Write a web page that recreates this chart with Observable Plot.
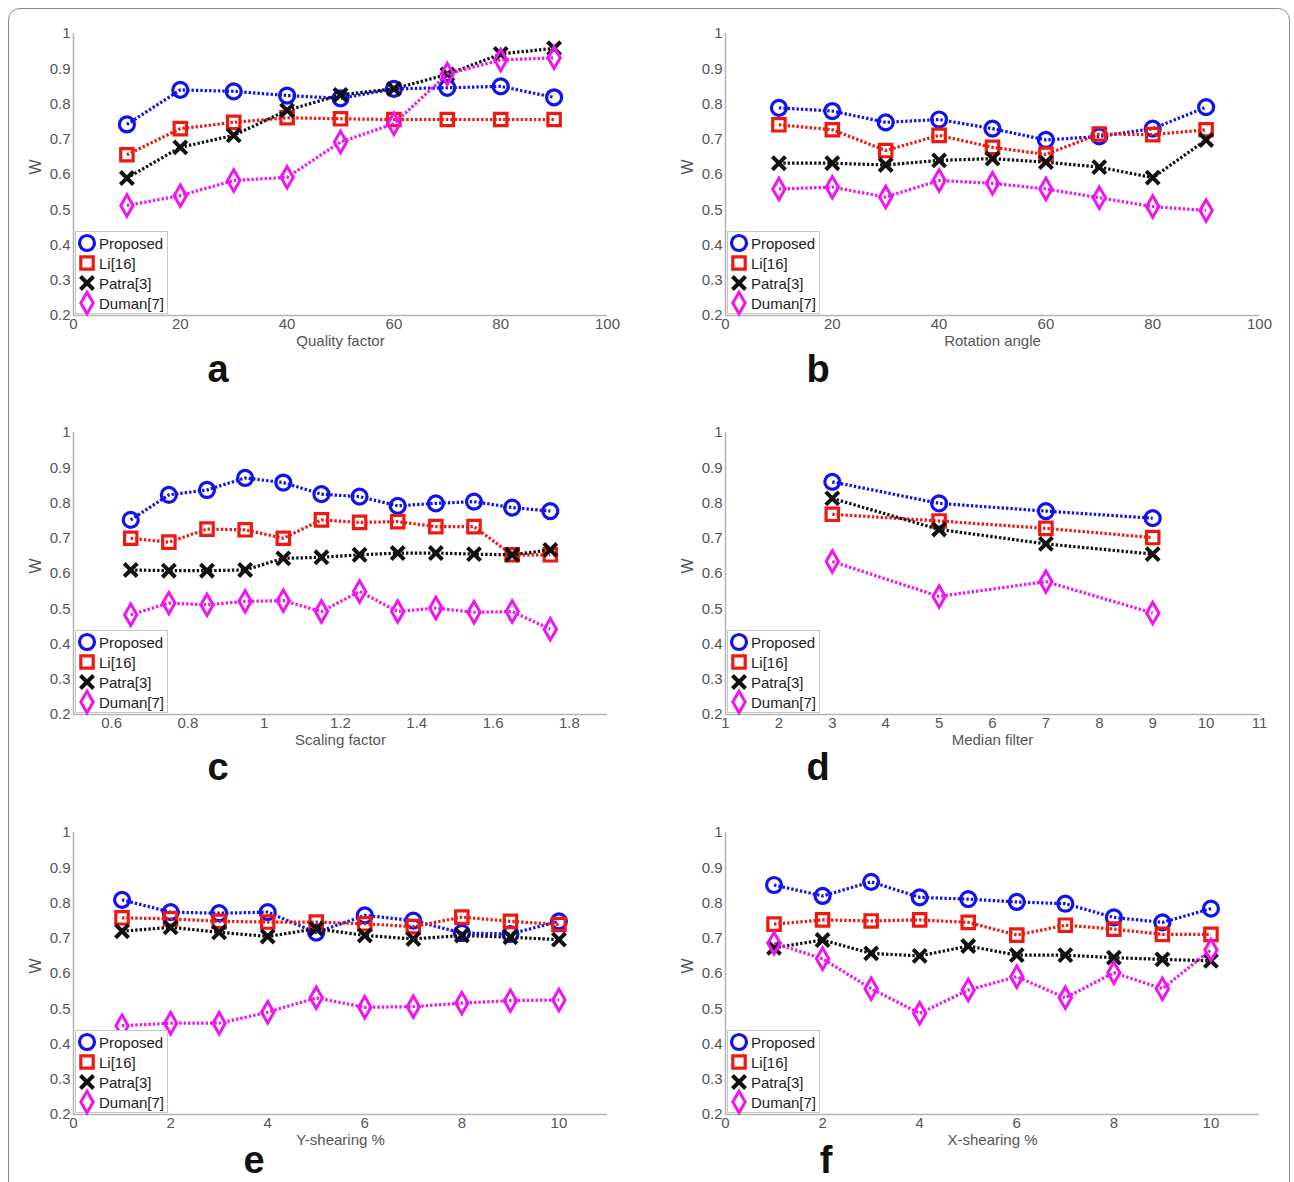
<!DOCTYPE html>
<html>
<head>
<meta charset="utf-8">
<script src="https://cdn.jsdelivr.net/npm/d3@7"></script>
<script src="https://cdn.jsdelivr.net/npm/@observablehq/plot@0.6"></script>
<style>
  html, body { margin: 0; padding: 0; background: #fff; }
  #root { position: relative; width: 1294px; height: 1182px; overflow: hidden; background: #fff;
          font-family: "Liberation Sans", Arial, sans-serif; }
  #card { position: absolute; left: 8px; top: 8px; width: 1282px; height: 1190px;
          border: 1.5px solid #8a8a8a; border-radius: 12px; box-sizing: border-box; }
  .panel { position: absolute; }
  .tag { position: absolute; font-weight: bold; font-size: 38px; color: #111; transform: translateX(-50%); line-height: 1; }
  .legend { position: absolute; width: 93px; height: 83px; border: 1px solid #c8c8c8; background: #fff; box-sizing: border-box; }
  .legend .row { position: absolute; left: 0; height: 20px; display: flex; align-items: center; font-size: 15px; color: #222; }
  .legend svg { display: block; margin-right: 1px; }
</style>
</head>
<body>
<div id="root"><div id="card"></div></div>
<script>
// ---------- data ----------
const seriesNames = ["Proposed", "Li[16]", "Patra[3]", "Duman[7]"];

// a: JPEG quality factor
const xA = [10, 20, 30, 40, 50, 60, 70, 80, 90];
const aProposed = [0.742, 0.840, 0.836, 0.824, 0.816, 0.843, 0.846, 0.850, 0.819];
const aLi       = [0.656, 0.730, 0.748, 0.761, 0.758, 0.756, 0.756, 0.756, 0.756];
const aPatra    = [0.590, 0.677, 0.711, 0.782, 0.826, 0.843, 0.884, 0.942, 0.958];
const aDuman    = [0.512, 0.540, 0.583, 0.592, 0.692, 0.744, 0.885, 0.925, 0.931];

// b: rotation angle
const xB = [10, 20, 30, 40, 50, 60, 70, 80, 90];
const bProposed = [0.789, 0.780, 0.748, 0.756, 0.730, 0.698, 0.708, 0.730, 0.791];
const bLi       = [0.741, 0.727, 0.668, 0.711, 0.677, 0.657, 0.715, 0.713, 0.727];
const bPatra    = [0.632, 0.632, 0.627, 0.640, 0.645, 0.635, 0.621, 0.591, 0.698];
const bDuman    = [0.559, 0.564, 0.536, 0.583, 0.575, 0.559, 0.534, 0.509, 0.498];

// c: scaling factor
const xC = [0.65, 0.75, 0.85, 0.95, 1.05, 1.15, 1.25, 1.35, 1.45, 1.55, 1.65, 1.75];
const cProposed = [0.752, 0.823, 0.837, 0.871, 0.858, 0.825, 0.818, 0.792, 0.799, 0.804, 0.787, 0.777];
const cLi       = [0.700, 0.689, 0.726, 0.724, 0.700, 0.752, 0.745, 0.747, 0.733, 0.733, 0.653, 0.653];
const cPatra    = [0.610, 0.608, 0.608, 0.610, 0.643, 0.646, 0.653, 0.658, 0.658, 0.655, 0.653, 0.667];
const cDuman    = [0.483, 0.516, 0.511, 0.521, 0.523, 0.492, 0.549, 0.492, 0.502, 0.490, 0.492, 0.442];

// d: median filter
const xD = [3, 5, 7, 9];
const dProposed = [0.860, 0.799, 0.777, 0.757];
const dLi       = [0.768, 0.749, 0.728, 0.702];
const dPatra    = [0.813, 0.725, 0.684, 0.655];
const dDuman    = [0.634, 0.535, 0.577, 0.488];

// e: Y-shearing %
const xE = [1, 2, 3, 4, 5, 6, 7, 8, 9, 10];
const eProposed = [0.809, 0.774, 0.771, 0.774, 0.716, 0.765, 0.750, 0.715, 0.712, 0.748];
const eLi       = [0.758, 0.755, 0.748, 0.746, 0.746, 0.741, 0.733, 0.760, 0.748, 0.739];
const ePatra    = [0.720, 0.731, 0.717, 0.705, 0.727, 0.708, 0.698, 0.708, 0.703, 0.696];
const eDuman    = [0.452, 0.459, 0.459, 0.490, 0.531, 0.504, 0.506, 0.516, 0.523, 0.525];

// f: X-shearing %
const xF = [1, 2, 3, 4, 5, 6, 7, 8, 9, 10];
const fProposed = [0.851, 0.820, 0.860, 0.816, 0.811, 0.803, 0.798, 0.759, 0.745, 0.784];
const fLi       = [0.740, 0.752, 0.749, 0.752, 0.745, 0.709, 0.737, 0.726, 0.711, 0.711];
const fPatra    = [0.673, 0.695, 0.657, 0.650, 0.678, 0.652, 0.652, 0.645, 0.640, 0.636];
const fDuman    = [0.686, 0.642, 0.557, 0.487, 0.553, 0.591, 0.531, 0.602, 0.557, 0.667];

// tick labels
const yTicks = [0.2, 0.3, 0.4, 0.5, 0.6, 0.7, 0.8, 0.9, 1];
const ticksA = [0, 20, 40, 60, 80, 100];
const ticksC = [0.6, 0.8, 1, 1.2, 1.4, 1.6, 1.8];
const ticksD = [1, 2, 3, 4, 5, 6, 7, 8, 9, 10, 11];
const ticksE = [0, 2, 4, 6, 8, 10];

// ---------- styles ----------
const styles = [
  {color: "#1212ee", symbol: "circle",  r: 7.5, sw: 3.2},
  {color: "#ee1a12", symbol: "square",  r: 7,   sw: 3.2},
  {color: "#111111", symbol: "times",   r: 6,   sw: 4},
  {color: "#f014f0", symbol: "diamond", r: 6.5, sw: 3}
];

const panels = [
  {tag: "a", x: xA, ys: [aProposed, aLi, aPatra, aDuman], domain: [0, 100], ticks: ticksA, label: "Quality factor", col: 0, row: 0, tagX: 218},
  {tag: "b", x: xB, ys: [bProposed, bLi, bPatra, bDuman], domain: [0, 100], ticks: ticksA, label: "Rotation angle", col: 1, row: 0, tagX: 818},
  {tag: "c", x: xC, ys: [cProposed, cLi, cPatra, cDuman], domain: [0.5, 1.9], ticks: ticksC, label: "Scaling factor", col: 0, row: 1, tagX: 218},
  {tag: "d", x: xD, ys: [dProposed, dLi, dPatra, dDuman], domain: [1, 11], ticks: ticksD, label: "Median filter", col: 1, row: 1, tagX: 818},
  {tag: "e", x: xE, ys: [eProposed, eLi, ePatra, eDuman], domain: [0, 11], ticks: ticksE, label: "Y-shearing %", col: 0, row: 2, tagX: 254},
  {tag: "f", x: xF, ys: [fProposed, fLi, fPatra, fDuman], domain: [0, 11], ticks: ticksE, label: "X-shearing %", col: 1, row: 2, tagX: 826}
];

const W = 642, H = 352, mL = 73, mR = 35, mT = 20, mB = 50;
const colLeft = [0, 652];
const rowTop = [13, 412, 812];
const tagTop = [350, 748, 1141];

const root = document.getElementById("root");

for (const p of panels) {
  const marks = [
    Plot.ruleY([0.2], {stroke: "#b4b4b4", strokeWidth: 1.5}),
    Plot.ruleX([p.domain[0]], {stroke: "#b4b4b4", strokeWidth: 1.5}),
    Plot.axisY({ticks: yTicks, tickSize: 0, tickPadding: 3, tickFormat: d => String(d), label: null, fill: "#555", fontSize: 15}),
    Plot.axisX({ticks: p.ticks, tickSize: 0, tickPadding: 3, tickFormat: d => String(d), label: null, fill: "#555", fontSize: 15}),
    Plot.text([p.label], {frameAnchor: "bottom", dy: 30, text: d => d, fontSize: 15, fill: "#555"}),
    Plot.text(["W"], {frameAnchor: "left", dx: -38, rotate: -90, text: d => d, fontSize: 16, fill: "#555"})
  ];
  p.ys.forEach((vals, i) => {
    const s = styles[i];
    const data = p.x.map((x, j) => ({x, y: vals[j]}));
    marks.push(Plot.line(data, {x: "x", y: "y", stroke: s.color, strokeWidth: 3.2, strokeDasharray: "2.4,2", strokeLinecap: "butt"}));
    marks.push(Plot.dot(data, {x: "x", y: "y", symbol: s.symbol, r: s.r, stroke: s.color, strokeWidth: s.sw, fill: "none"}));
  });
  const chart = Plot.plot({
    width: W, height: H,
    marginLeft: mL, marginRight: mR, marginTop: mT, marginBottom: mB,
    style: {fontFamily: "'Liberation Sans', Arial, sans-serif", fontSize: "15px", background: "transparent", overflow: "visible"},
    x: {domain: p.domain},
    y: {domain: [0.2, 1]},
    marks
  });
  const wrap = document.createElement("div");
  wrap.className = "panel";
  wrap.style.left = colLeft[p.col] + "px";
  wrap.style.top = rowTop[p.row] + "px";
  wrap.appendChild(chart);
  root.appendChild(wrap);

  // legend (lower-left inside the axes)
  const lg = document.createElement("div");
  lg.className = "legend";
  lg.style.left = (colLeft[p.col] + mL + 2) + "px";
  lg.style.top = (rowTop[p.row] + H - mB - 84) + "px";
  seriesNames.forEach((name, i) => {
    const s = styles[i];
    const row = document.createElement("div");
    row.className = "row";
    row.style.top = (1 + i * 20) + "px";
    const sym = d3.symbol().type({circle: d3.symbolCircle, square: d3.symbolSquare, times: d3.symbolTimes, diamond: d3.symbolDiamond}[s.symbol]).size(Math.PI * s.r * s.r)();
    row.innerHTML = `<svg width="22" height="20" viewBox="-11 -10 22 20" style="overflow:visible"><path d="${sym}" fill="none" stroke="${s.color}" stroke-width="${s.sw}"/></svg><span>${name}</span>`;
    lg.appendChild(row);
  });
  root.appendChild(lg);

  const tag = document.createElement("div");
  tag.className = "tag";
  tag.textContent = p.tag;
  tag.style.left = p.tagX + "px";
  tag.style.top = tagTop[p.row] + "px";
  root.appendChild(tag);
}
</script>
</body>
</html>
